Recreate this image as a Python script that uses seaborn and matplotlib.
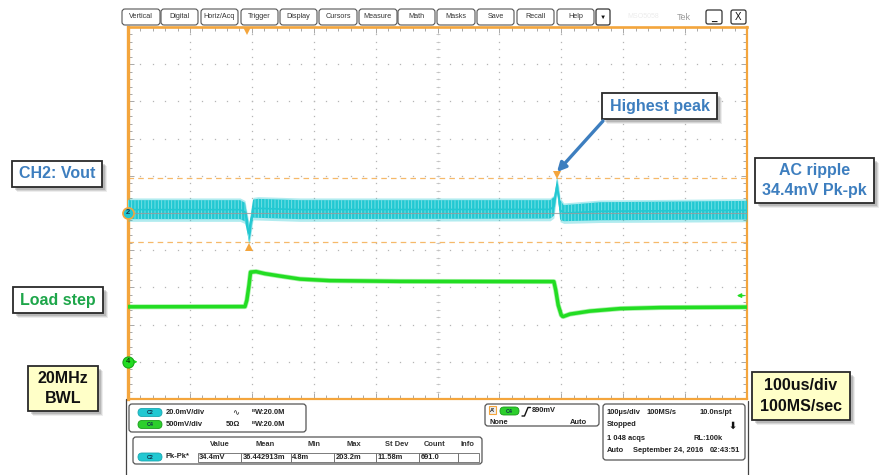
import numpy as np
import pandas as pd
import matplotlib
matplotlib.use("Agg")
import matplotlib.pyplot as plt
import seaborn as sns
from matplotlib.patches import FancyBboxPatch, Rectangle

# ---------------- acquisition data ----------------
# CH2 : Vout, AC coupled, 20 mV/div -> envelope of the ripple band (µs, mV)
ch2_time_us = [0, 181, 189, 193, 195.5, 198, 202, 210, 278, 682, 688, 691, 693, 696, 698, 704, 763, 1000]
ch2_upper_mv = [6.9, 6.9, 5.5, -2.0, -6.6, -2.0, 7.2, 7.6, 6.9, 6.9, 8.5, 14.0, 18.6, 13.0, 7.0, 4.2, 5.8, 6.5]
ch2_lower_mv = [-3.3, -3.3, -4.5, -11.0, -15.8, -12.0, -2.5, -2.6, -3.3, -3.0, -1.5, 6.0, 11.5, 4.0, -3.5, -4.4, -3.9, -3.5]

# CH4 : load step, 500 mV/div (µs, mV)
ch4_time_us = [0, 189, 192, 195.5, 198, 207, 221, 246, 278, 326, 440, 688, 691, 695, 700, 703, 714, 746, 795, 860, 1000]
ch4_mv = [739, 742, 829, 1031, 1206, 1212, 1185, 1152, 1112, 1091, 1081, 1078, 964, 762, 627, 608, 641, 681, 715, 729, 735]

ch2_mv_per_div, ch2_pos_div = 20.0, 5.0
ch4_mv_per_div, ch4_pos_div = 500.0, 1.0
trigger_time_us = 192
trigger_level_mv = 890
cursor_hi_mv, cursor_lo_mv = 18.6, -15.8
peak_time_us, dip_time_us = 693, 195.5

menu_items = ["Vertical", "Digital", "Horiz/Acq", "Trigger", "Display", "Cursors",
              "Measure", "Math", "Masks", "Save", "Recall", "Help"]
meas_headers = ["Value", "Mean", "Min", "Max", "St Dev", "Count", "Info"]
meas_values = ["34.4mV", "36.442913m", "4.8m", "203.2m", "11.58m", "691.0", ""]

# ---------------- styling ----------------
sns.set_style("white")
plt.rcParams["font.family"] = ["Liberation Sans", "DejaVu Sans"]
plt.rcParams["lines.scale_dashes"] = False
plt.rcParams["hatch.linewidth"] = 0.6

ORANGE = "#f4a53c"
CURSOR = "#f6b96a"
CYAN = "#22c8d2"
GREEN = "#22dd22"
BLUE_TXT = "#3d7ebf"
GREEN_TXT = "#1ea64a"
W, H = 896, 475

fig = plt.figure(figsize=(W / 100, H / 100), dpi=100)
fig.patch.set_facecolor("white")

# graticule area (pixels): x 128..747, y 27..399
L, R, T, B = 128, 747, 27, 399
ax = fig.add_axes([L / W, (H - B) / H, (R - L) / W, (B - T) / H])
ax.set_xlim(0, 1000)
ax.set_ylim(0, 10)

# dotted graticule
dots_x, dots_y = [], []
for xm in range(100, 1000, 100):
    for yv in np.arange(0, 10.01, 0.2):
        dots_x.append(xm); dots_y.append(yv)
for ym in range(1, 10):
    for xv in np.arange(0, 1000.1, 20):
        dots_x.append(xv); dots_y.append(ym)
ax.plot(dots_x, dots_y, ls="none", marker="s", ms=0.9, mew=0, color="#b5b5b5", zorder=1)
# centre cross tick marks
ax.plot([500] * 51, np.arange(0, 10.01, 0.2), ls="none", marker="_", ms=3, mew=0.6, color="#c4c4c4", zorder=1)
ax.plot(np.arange(0, 1000.1, 20), [5] * 51, ls="none", marker="|", ms=3, mew=0.6, color="#c4c4c4", zorder=1)

# border ticks
ax.set_xticks(np.arange(0, 1001, 100))
ax.set_xticks(np.arange(0, 1001, 20), minor=True)
ax.set_yticks(np.arange(0, 10.01, 1))
ax.set_yticks(np.arange(0, 10.01, 0.2), minor=True)
ax.tick_params(which="both", direction="in", top=True, right=True, bottom=True, left=True,
               labelbottom=False, labelleft=False, color="#a8a8a8", width=0.7)
ax.tick_params(which="major", length=4)
ax.tick_params(which="minor", length=3)
ax.grid(False)
for side, lw in [("left", 2.4), ("top", 1.9), ("right", 1.6), ("bottom", 1.6)]:
    ax.spines[side].set_color(ORANGE)
    ax.spines[side].set_linewidth(lw)

# cursor lines at the measured extremes
hi_div = ch2_pos_div + cursor_hi_mv / ch2_mv_per_div
lo_div = ch2_pos_div + cursor_lo_mv / ch2_mv_per_div
for yv in (hi_div, lo_div):
    ax.axhline(yv, color=CURSOR, lw=0.9, ls=(0, (4, 3)), zorder=2)

# CH2 trace
ch2 = pd.DataFrame({"t": ch2_time_us,
                    "up": ch2_pos_div + np.array(ch2_upper_mv) / ch2_mv_per_div,
                    "lo": ch2_pos_div + np.array(ch2_lower_mv) / ch2_mv_per_div})
ax.fill_between(ch2["t"], ch2["lo"] - 0.06, ch2["up"] + 0.06, color=CYAN, alpha=0.35, lw=0, zorder=3)
ax.fill_between(ch2["t"], ch2["lo"], ch2["up"], facecolor=CYAN, edgecolor="#7fe3e8",
                hatch="|||||", lw=0, zorder=3)
ch2["mid"] = (ch2["up"] + ch2["lo"]) / 2
sns.lineplot(data=ch2, x="t", y="mid", ax=ax, color=CYAN, lw=1.2, zorder=3)
ax.axhline(ch2_pos_div, color="#9a9a9a", lw=0.8, alpha=0.8, zorder=4)

# CH4 trace
ch4 = pd.DataFrame({"t": ch4_time_us, "v": ch4_pos_div + np.array(ch4_mv) / ch4_mv_per_div})
sns.lineplot(data=ch4, x="t", y="v", ax=ax, color=GREEN, lw=3.6, alpha=0.4, zorder=3)
sns.lineplot(data=ch4, x="t", y="v", ax=ax, color=GREEN, lw=2.5, zorder=3)
ax.set_xlabel(""); ax.set_ylabel("")

# markers on the graticule
ax.plot(trigger_time_us, 9.88, marker="v", ms=6, color=ORANGE, mew=0, clip_on=False, zorder=6)
ax.plot(dip_time_us, lo_div - 0.12, marker="^", ms=6, color=ORANGE, mew=0, clip_on=False, zorder=6)
ax.plot(peak_time_us, hi_div + 0.09, marker="v", ms=6, color=ORANGE, mew=0, clip_on=False, zorder=6)
ax.plot(0, ch2_pos_div, marker="o", ms=8, mfc=CYAN, mec=ORANGE, mew=1.2, clip_on=False, zorder=7)
ax.text(0, ch2_pos_div, "2", ha="center", va="center", fontsize=5.5, fontweight="bold", color="#163a50", zorder=8)
ax.annotate("", xy=(20, ch4_pos_div), xytext=(3, ch4_pos_div),
            arrowprops=dict(arrowstyle="-|>", color=GREEN, lw=1, mutation_scale=6), zorder=7)
ax.plot(0, ch4_pos_div, marker="o", ms=8, mfc=GREEN, mec="#1aa81a", mew=0.8, clip_on=False, zorder=7)
ax.text(0, ch4_pos_div, "4", ha="center", va="center", fontsize=5.5, fontweight="bold", color="#0d3d0d", zorder=8)
trig_div = ch4_pos_div + trigger_level_mv / ch4_mv_per_div
ax.annotate("", xy=(979, trig_div), xytext=(1000, trig_div),
            arrowprops=dict(arrowstyle="-|>", color=GREEN, lw=1, mutation_scale=6), zorder=7)

# ---------------- overlay (pixel coordinates) ----------------
ov = fig.add_axes([0, 0, 1, 1], zorder=10)
ov.set_xlim(0, W); ov.set_ylim(H, 0)
ov.axis("off"); ov.patch.set_alpha(0)


def rbox(x0, y0, x1, y1, r=3, fc="white", ec="#555555", lw=0.8, z=2):
    ov.add_patch(FancyBboxPatch((x0, y0), x1 - x0, y1 - y0,
                                boxstyle=f"round,pad=0,rounding_size={r}",
                                fc=fc, ec=ec, lw=lw, zorder=z))


def txt(x, y, s, size=5.6, ha="left", color="#222222", weight="bold", **kw):
    ov.text(x, y, s, fontsize=size, ha=ha, va="center", color=color, fontweight=weight, **kw)


def pill(x0, y0, label, fc, ec):
    rbox(x0, y0, x0 + 24, y0 + 8, r=4, fc=fc, ec=ec, lw=0.6, z=3)
    txt(x0 + 12, y0 + 4.2, label, size=3.8, ha="center", color="#10304a", zorder=4)


# menu bar
btn_edges = [(122, 160), (161, 198), (201, 238), (241, 278), (280, 317), (319, 357),
             (359, 397), (398, 435), (437, 475), (477, 514), (517, 554), (557, 594)]
for (x0, x1), name in zip(btn_edges, menu_items):
    rbox(x0, 9, x1, 25, r=3, lw=0.8)
    txt((x0 + x1) / 2, 17, name, size=5.2, ha="center", color="#333333", weight="normal")
rbox(596, 9, 610, 25, r=2, lw=0.9, ec="#333333")
txt(603, 17.5, "▼", size=4.5, ha="center", color="#111111", weight="normal")
txt(627, 17, "MSO5058", size=5, color="#ececec", weight="normal")
txt(677, 17, "Tek", size=6.5, color="#9a9a9a", weight="normal")
rbox(706, 10, 722, 24, r=2, lw=0.9, ec="#333333")
txt(714, 18, "_", size=7, ha="center", color="#111111")
rbox(731, 10, 746, 24, r=2, lw=0.9, ec="#333333")
txt(738.5, 17.5, "X", size=7, ha="center", color="#111111", weight="normal")

# window frame below graticule
ov.plot([126, 126], [399, 475], color="#444444", lw=0.9)
ov.plot([747.5, 747.5], [401, 475], color="#444444", lw=0.9)

# channel settings box
rbox(129, 404, 306, 432, r=3, lw=0.9)
pill(138, 408.5, "C2", CYAN, "#1aa6b0")
pill(138, 420.5, "C4", "#2ccf2c", "#1a9a1a")
txt(166, 413, "20.0mV/div", size=5.4)
txt(166, 425, "500mV/div", size=5.4)
txt(232, 412.5, "∿", size=6, weight="normal", family=["DejaVu Sans"])
txt(226, 425, "50Ω", size=5.4)
for yy in (413, 425):
    txt(252, yy - 2.5, "B", size=3.2)
    txt(255, yy, "W:20.0M", size=5.4)

# measurement table
rbox(133, 437, 482, 464, r=3, lw=0.9)
head_x = [220, 265, 314, 354, 397, 435, 467]
for hx, h in zip(head_x, meas_headers):
    txt(hx, 445, h, size=5.4, ha="center", color="#333333")
pill(138, 453, "C2", CYAN, "#1aa6b0")
txt(166, 457, "Pk-Pk*", size=5.4)
cells = [197.7, 241, 290.7, 334.3, 376, 419.3, 457.7, 479]
for i, val in enumerate(meas_values):
    ov.add_patch(Rectangle((cells[i], 452.5), cells[i + 1] - cells[i], 9.5,
                           fc="white", ec="#666666", lw=0.6, zorder=3))
    txt(cells[i] + 1.5, 457.3, val, size=5.4, zorder=4)

# trigger box
rbox(485, 404, 599, 426, r=3, lw=0.9)
ov.add_patch(Rectangle((489, 406), 7, 8, fc="#eeeeee", ec=ORANGE, lw=0.8, zorder=3))
txt(492.5, 410.2, "A'", size=4, ha="center", zorder=4)
rbox(500, 407, 519, 415, r=4, fc="#2ccf2c", ec="#1a9a1a", lw=0.6, z=3)
txt(509.5, 411.2, "C4", size=3.8, ha="center", color="#10304a", zorder=4)
ov.plot([522, 524.5, 528, 530.5], [416, 416, 407.5, 407.5], color="#111111", lw=1.0)
txt(532, 411, "890mV", size=5.4)
txt(490, 422.8, "None", size=5.4)
txt(570, 423, "Auto", size=5.4)

# timebase / acquisition box
rbox(603, 404, 745, 460, r=3, lw=0.9)
txt(607, 412.5, "100µs/div", size=5.4)
txt(647, 412.5, "100MS/s", size=5.4)
txt(732, 412.5, "10.0ns/pt", size=5.4, ha="right")
txt(607, 425, "Stopped", size=5.4)
txt(733, 425.5, "⬇", size=7, ha="center", family=["DejaVu Sans"], color="#111111")
txt(607, 438, "1 048 acqs", size=5.4)
txt(693, 438, "RL:100k", size=5.4)
txt(607, 451, "Auto", size=5.4)
txt(633, 451, "September 24, 2016", size=5.4)
txt(710, 451, "02:43:51", size=5.4)


# callout boxes
def callout(x0, y0, x1, y1, lines, color, fc="white", size=11.5):
    for d, a in [(4.5, 0.10), (3.5, 0.16), (2.5, 0.22)]:
        ov.add_patch(Rectangle((x0 + d, y0 + d), x1 - x0, y1 - y0, fc="#555555",
                               ec="none", alpha=a, zorder=5))
    ov.add_patch(Rectangle((x0, y0), x1 - x0, y1 - y0, fc=fc, ec="#2a2a2a", lw=1.3, zorder=6))
    n = len(lines)
    step = (y1 - y0) / (n + 0.15)
    for i, s in enumerate(lines):
        yy = y0 + (y1 - y0) / 2 + (i - (n - 1) / 2) * step * 0.92
        ov.text((x0 + x1) / 2, yy, s, fontsize=size, fontweight="bold", color=color,
                ha="center", va="center", zorder=7)


callout(12, 161, 102, 187, ["CH2: Vout"], BLUE_TXT)
callout(13, 287, 103, 313, ["Load step"], GREEN_TXT)
callout(602, 93, 717, 119, ["Highest peak"], BLUE_TXT)
callout(755, 158, 874, 203, ["AC ripple", "34.4mV Pk-pk"], BLUE_TXT)
callout(28, 366, 98, 411, ["20MHz", "BWL"], "#111111", fc="#ffffc8")
callout(752, 372, 850, 420, ["100us/div", "100MS/sec"], "#111111", fc="#ffffc8")

ov.annotate("", xy=(557, 172), xytext=(603, 121),
            arrowprops=dict(arrowstyle="-|>", color=BLUE_TXT, lw=2.4, mutation_scale=13,
                            shrinkA=0, shrinkB=0), zorder=8)

fig.savefig("out.png", dpi=100, facecolor="white")
